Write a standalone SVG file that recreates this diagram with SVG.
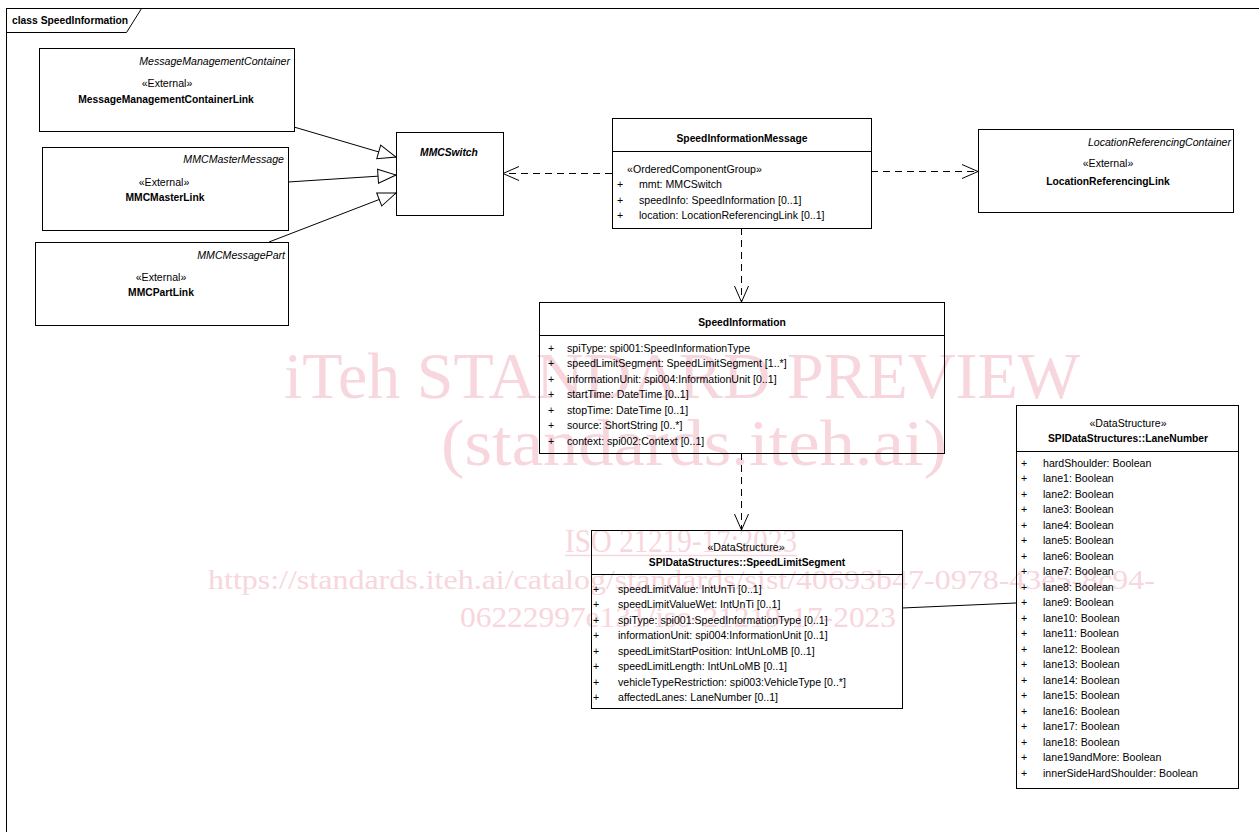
<svg xmlns="http://www.w3.org/2000/svg" width="1259" height="832" viewBox="0 0 1259 832">
<style>
  text { font-family: "Liberation Sans", Arial, sans-serif; font-size: 10.6px; fill: #000; }
  .b { font-weight: bold; font-size: 10.3px; }
  .i { font-style: italic; }
  .bi { font-weight: bold; font-style: italic; font-size: 10.3px; }
  .m { text-anchor: middle; }
  .e { text-anchor: end; }
  .box { fill: none; stroke: #000; stroke-width: 1; }
  .sep { stroke: #000; stroke-width: 1; }
  .line { fill: none; stroke: #000; stroke-width: 1; }
  .dash { fill: none; stroke: #000; stroke-width: 1; stroke-dasharray: 7 5; }
  text.wm { font-family: "Liberation Serif", "Times New Roman", serif; fill: #f8d6dd; }
  text.w1 { font-size: 65px; }
  text.w2 { font-size: 34px; }
  text.w3 { font-size: 27px; }
  text.w4 { font-size: 30px; }
</style>
<defs>
  <marker id="gen" markerUnits="userSpaceOnUse" markerWidth="22" markerHeight="18" refX="19" refY="8" orient="auto">
    <path d="M1,1 L19,8 L1,15 Z" fill="#fff" stroke="#000" stroke-width="1"/>
  </marker>
  <marker id="open" markerUnits="userSpaceOnUse" markerWidth="20" markerHeight="18" refX="17" refY="8" orient="auto">
    <path d="M1,1 L17,8 L1,15" fill="none" stroke="#000" stroke-width="1"/>
  </marker>
</defs>
<rect x="0" y="0" width="1259" height="832" fill="#fff"/>

<g id="watermark">
  <text class="wm w1" x="284" y="398" textLength="796" lengthAdjust="spacingAndGlyphs">iTeh STANDARD PREVIEW</text>
  <text class="wm w1" x="441" y="465" textLength="506" lengthAdjust="spacingAndGlyphs">(standards.iteh.ai)</text>
  <text class="wm w2" x="565" y="552" textLength="232" lengthAdjust="spacingAndGlyphs">ISO 21219-17:2023</text>
  <line x1="565" y1="555.5" x2="797" y2="555.5" stroke="#f8d6dd" stroke-width="1.5"/>
  <text class="wm w3" x="208" y="589" textLength="947" lengthAdjust="spacingAndGlyphs">https://standards.iteh.ai/catalog/standards/sist/40693b47-0978-43e5-8c94-</text>
  <text class="wm w4" x="460" y="627" textLength="436" lengthAdjust="spacingAndGlyphs">06222997e131/iso-21219-17-2023</text>
</g>

<g id="frame">
  <rect x="6.5" y="8.5" width="1262" height="835" class="box"/>
  <path d="M6.5,32.5 L126.5,32.5 L141.5,8.5" class="line"/>
  <text class="b" x="12" y="24">class SpeedInformation</text>
</g>

<g id="connectors">
  <line x1="294" y1="127" x2="396" y2="157" class="line" marker-end="url(#gen)"/>
  <line x1="288" y1="182" x2="396" y2="175" class="line" marker-end="url(#gen)"/>
  <line x1="269" y1="242" x2="396" y2="193" class="line" marker-end="url(#gen)"/>
  <line x1="612" y1="173.5" x2="503" y2="173.5" class="dash" marker-end="url(#open)"/>
  <line x1="871" y1="171.5" x2="978" y2="171.5" class="dash" marker-end="url(#open)"/>
  <line x1="741.5" y1="228" x2="741.5" y2="302" class="dash" marker-end="url(#open)"/>
  <line x1="741.5" y1="453" x2="741.5" y2="530" class="dash" marker-end="url(#open)"/>
  <line x1="902" y1="608" x2="1016" y2="603" class="line"/>
</g>

<g id="MessageManagementContainerLink">
  <rect x="39.5" y="48.5" width="255" height="83" class="box"/>
  <text class="i e" x="290" y="64.5">MessageManagementContainer</text>
  <text class="m" x="167" y="86.5">«External»</text>
  <text class="b m" x="166" y="102.5">MessageManagementContainerLink</text>
</g>

<g id="MMCMasterLink">
  <rect x="42.5" y="147.5" width="246" height="83" class="box"/>
  <text class="i e" x="284" y="162.5">MMCMasterMessage</text>
  <text class="m" x="164" y="185.5">«External»</text>
  <text class="b m" x="165" y="200.5">MMCMasterLink</text>
</g>

<g id="MMCPartLink">
  <rect x="35.5" y="242.5" width="253" height="83" class="box"/>
  <text class="i e" x="285" y="258.5">MMCMessagePart</text>
  <text class="m" x="161" y="280.5">«External»</text>
  <text class="b m" x="161" y="295.5">MMCPartLink</text>
</g>

<g id="MMCSwitch">
  <rect x="396.5" y="132.5" width="107" height="83" class="box"/>
  <text class="bi m" x="449" y="155.5">MMCSwitch</text>
</g>

<g id="SpeedInformationMessage">
  <rect x="612.5" y="118.5" width="259" height="110" class="box"/>
  <line x1="612.5" y1="151.5" x2="871.5" y2="151.5" class="sep"/>
  <text class="b m" x="742" y="141.5">SpeedInformationMessage</text>
  <text x="627" y="172.5">«OrderedComponentGroup»</text>
  <text class="m" x="620" y="188">+</text><text x="639" y="188">mmt: MMCSwitch</text>
  <text class="m" x="620" y="203.5">+</text><text x="639" y="203.5">speedInfo: SpeedInformation [0..1]</text>
  <text class="m" x="620" y="219">+</text><text x="639" y="219">location: LocationReferencingLink [0..1]</text>
</g>

<g id="LocationReferencingLink">
  <rect x="978.5" y="129.5" width="255" height="83" class="box"/>
  <text class="i e" x="1231" y="145.5">LocationReferencingContainer</text>
  <text class="m" x="1108" y="166.5">«External»</text>
  <text class="b m" x="1108" y="184.5">LocationReferencingLink</text>
</g>

<g id="SpeedInformation">
  <rect x="539.5" y="302.5" width="405" height="151" class="box"/>
  <line x1="539.5" y1="335.5" x2="944.5" y2="335.5" class="sep"/>
  <text class="b m" x="742" y="325.5">SpeedInformation</text>
  <text class="m" x="551" y="351.5">+</text><text x="567" y="351.5">spiType: spi001:SpeedInformationType</text>
  <text class="m" x="551" y="367">+</text><text x="567" y="367">speedLimitSegment: SpeedLimitSegment [1..*]</text>
  <text class="m" x="551" y="382.5">+</text><text x="567" y="382.5">informationUnit: spi004:InformationUnit [0..1]</text>
  <text class="m" x="551" y="398">+</text><text x="567" y="398">startTime: DateTime [0..1]</text>
  <text class="m" x="551" y="413.5">+</text><text x="567" y="413.5">stopTime: DateTime [0..1]</text>
  <text class="m" x="551" y="429">+</text><text x="567" y="429">source: ShortString [0..*]</text>
  <text class="m" x="551" y="444.5">+</text><text x="567" y="444.5">context: spi002:Context [0..1]</text>
</g>

<g id="SpeedLimitSegment">
  <rect x="591.5" y="530.5" width="311" height="178" class="box"/>
  <line x1="591.5" y1="574.5" x2="902.5" y2="574.5" class="sep"/>
  <text class="m" x="746" y="550.5">«DataStructure»</text>
  <text class="b m" x="747" y="565.5">SPIDataStructures::SpeedLimitSegment</text>
  <text class="m" x="596" y="592.5">+</text><text x="618" y="592.5">speedLimitValue: IntUnTi [0..1]</text>
  <text class="m" x="596" y="608">+</text><text x="618" y="608">speedLimitValueWet: IntUnTi [0..1]</text>
  <text class="m" x="596" y="623.5">+</text><text x="618" y="623.5">spiType: spi001:SpeedInformationType [0..1]</text>
  <text class="m" x="596" y="639">+</text><text x="618" y="639">informationUnit: spi004:InformationUnit [0..1]</text>
  <text class="m" x="596" y="654.5">+</text><text x="618" y="654.5">speedLimitStartPosition: IntUnLoMB [0..1]</text>
  <text class="m" x="596" y="670">+</text><text x="618" y="670">speedLimitLength: IntUnLoMB [0..1]</text>
  <text class="m" x="596" y="685.5">+</text><text x="618" y="685.5">vehicleTypeRestriction: spi003:VehicleType [0..*]</text>
  <text class="m" x="596" y="701">+</text><text x="618" y="701">affectedLanes: LaneNumber [0..1]</text>
</g>

<g id="LaneNumber">
  <rect x="1016.5" y="405.5" width="222" height="383" class="box"/>
  <line x1="1016.5" y1="451.5" x2="1238.5" y2="451.5" class="sep"/>
  <text class="m" x="1128" y="426.5">«DataStructure»</text>
  <text class="b m" x="1128" y="441.5">SPIDataStructures::LaneNumber</text>
  <text class="m" x="1024" y="466.5">+</text><text x="1043" y="466.5">hardShoulder: Boolean</text>
  <text class="m" x="1024" y="482">+</text><text x="1043" y="482">lane1: Boolean</text>
  <text class="m" x="1024" y="497.5">+</text><text x="1043" y="497.5">lane2: Boolean</text>
  <text class="m" x="1024" y="513">+</text><text x="1043" y="513">lane3: Boolean</text>
  <text class="m" x="1024" y="528.5">+</text><text x="1043" y="528.5">lane4: Boolean</text>
  <text class="m" x="1024" y="544">+</text><text x="1043" y="544">lane5: Boolean</text>
  <text class="m" x="1024" y="559.5">+</text><text x="1043" y="559.5">lane6: Boolean</text>
  <text class="m" x="1024" y="575">+</text><text x="1043" y="575">lane7: Boolean</text>
  <text class="m" x="1024" y="590.5">+</text><text x="1043" y="590.5">lane8: Boolean</text>
  <text class="m" x="1024" y="606">+</text><text x="1043" y="606">lane9: Boolean</text>
  <text class="m" x="1024" y="621.5">+</text><text x="1043" y="621.5">lane10: Boolean</text>
  <text class="m" x="1024" y="637">+</text><text x="1043" y="637">lane11: Boolean</text>
  <text class="m" x="1024" y="652.5">+</text><text x="1043" y="652.5">lane12: Boolean</text>
  <text class="m" x="1024" y="668">+</text><text x="1043" y="668">lane13: Boolean</text>
  <text class="m" x="1024" y="683.5">+</text><text x="1043" y="683.5">lane14: Boolean</text>
  <text class="m" x="1024" y="699">+</text><text x="1043" y="699">lane15: Boolean</text>
  <text class="m" x="1024" y="714.5">+</text><text x="1043" y="714.5">lane16: Boolean</text>
  <text class="m" x="1024" y="730">+</text><text x="1043" y="730">lane17: Boolean</text>
  <text class="m" x="1024" y="745.5">+</text><text x="1043" y="745.5">lane18: Boolean</text>
  <text class="m" x="1024" y="761">+</text><text x="1043" y="761">lane19andMore: Boolean</text>
  <text class="m" x="1024" y="776.5">+</text><text x="1043" y="776.5">innerSideHardShoulder: Boolean</text>
</g>
</svg>
